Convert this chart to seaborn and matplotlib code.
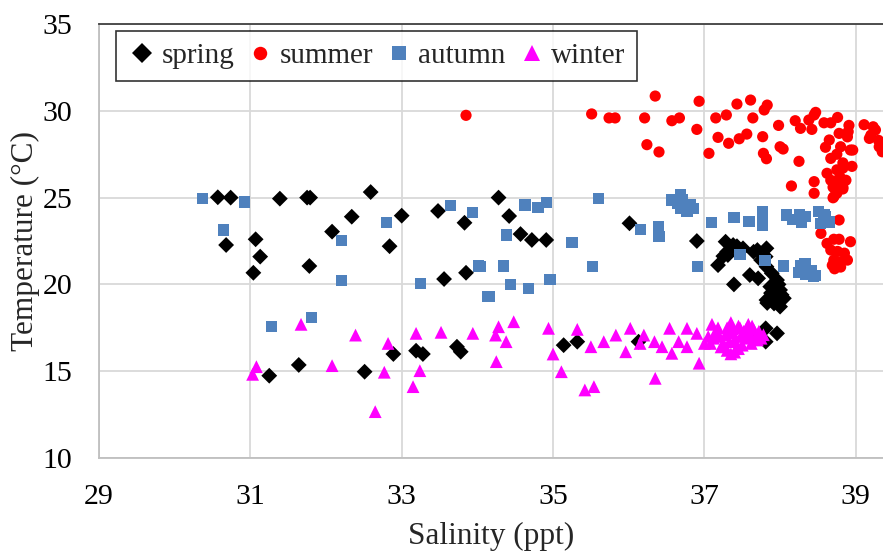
import pandas as pd
import matplotlib
matplotlib.use('Agg')
import matplotlib.pyplot as plt
import seaborn as sns

# Salinity (ppt) / temperature (C)
spring_sal = [30.57, 30.74, 30.68, 31.07, 31.13, 31.04, 31.39, 31.75, 31.79, 31.78,
              32.08, 32.34, 32.59, 32.84, 33.00, 33.48, 33.83, 33.56, 33.85, 34.28,
              34.42, 34.57, 34.72, 34.91, 36.01, 36.90, 37.18, 37.39, 37.31, 37.28,
              37.38, 37.51, 37.65, 37.82, 37.30, 37.25, 37.60, 37.71, 37.82, 37.89,
              37.96, 37.87, 38.00, 37.82, 37.96, 38.05, 37.81, 37.75, 37.92, 37.83,
              38.00, 37.92, 38.02, 37.81, 37.96, 37.81, 37.65, 37.72, 35.14, 35.32,
              36.13, 31.25, 31.64, 32.51, 32.89, 33.19, 33.28, 33.73, 33.78, 37.70,
              37.88, 37.98, 37.43]
spring_temp = [25.02, 25.00, 22.27, 22.60, 21.60, 20.67, 24.94, 25.00, 25.00, 21.06,
               23.04, 23.90, 25.32, 22.20, 23.96, 24.23, 23.55, 20.31, 20.67, 25.00,
               23.94, 22.90, 22.56, 22.56, 23.52, 22.50, 21.11, 20.00, 21.69, 22.46,
               22.27, 22.08, 21.88, 22.08, 21.88, 21.63, 20.54, 20.35, 21.02, 20.64,
               20.25, 19.87, 19.68, 19.10, 19.10, 19.20, 21.60, 21.40, 19.30, 18.93,
               18.72, 18.90, 19.40, 17.47, 17.18, 16.70, 16.80, 17.00, 16.50, 16.70,
               16.70, 14.74, 15.36, 14.97, 15.99, 16.18, 15.99, 16.41, 16.12, 21.98,
               19.50, 20.00, 22.20]

summer_sal = [33.85, 35.51, 35.74, 35.82, 36.21, 36.35, 36.57, 36.67, 36.24, 36.40,
              36.90, 36.93, 37.06, 37.15, 37.18, 37.29, 37.32, 37.43, 37.46, 37.56,
              37.61, 37.64, 37.77, 37.78, 37.82, 37.79, 37.83, 37.98, 38.00, 38.04,
              38.25, 38.15, 38.20, 38.27, 38.38, 38.42, 38.45, 38.47, 38.58, 38.67,
              38.76, 38.45, 38.45, 38.91, 39.11, 39.18, 39.26, 39.31, 39.35, 39.23,
              38.78, 38.65, 38.89, 38.80, 38.93, 38.96, 38.67, 38.75, 38.83, 38.62,
              38.75, 38.83, 38.79, 38.67, 38.70, 38.83, 38.75, 38.70, 38.87, 38.71,
              38.77, 38.83, 38.78, 38.54, 38.62, 38.71, 38.78, 38.93, 38.67, 38.76,
              38.85, 38.71, 38.80, 38.89, 38.69, 38.80, 38.72, 38.90, 38.60, 38.95,
              39.30, 39.20]
summer_temp = [29.74, 29.82, 29.59, 29.59, 29.59, 30.85, 29.43, 29.59, 28.05, 27.63,
               28.93, 30.55, 27.55, 29.59, 28.47, 29.76, 28.13, 30.39, 28.39, 28.66,
               30.62, 29.59, 28.51, 27.55, 27.24, 30.05, 30.33, 29.16, 27.93, 27.80,
               27.09, 25.67, 29.43, 28.99, 29.47, 28.93, 29.76, 29.91, 29.31, 29.31,
               29.62, 25.92, 25.25, 29.16, 29.20, 28.41, 28.90, 27.93, 27.64, 29.08,
               28.70, 28.32, 28.50, 27.93, 27.74, 27.74, 27.26, 27.50, 27.00, 26.40,
               26.60, 26.70, 26.20, 26.00, 25.60, 25.50, 25.25, 24.99, 26.00, 25.05,
               26.00, 25.60, 23.71, 22.94, 22.36, 22.60, 22.60, 22.46, 21.98, 21.90,
               21.80, 21.40, 21.30, 21.40, 21.10, 21.00, 20.90, 28.80, 27.90, 26.80,
               28.30, 28.60]

autumn_sal = [30.37, 30.92, 30.65, 32.20, 32.80, 32.20, 33.25, 33.64, 33.94, 34.01,
              34.13, 31.28, 31.81, 34.63, 34.80, 34.91, 35.60, 34.38, 35.25, 36.16,
              36.39, 36.40, 34.04, 34.35, 35.52, 36.91, 34.44, 34.68, 34.96, 34.16,
              36.57, 36.68, 36.71, 36.82, 36.68, 36.77, 36.85, 36.64, 37.09, 37.39,
              37.59, 37.77, 37.77, 37.77, 38.09, 38.17, 38.26, 38.28, 38.33, 38.51,
              38.60, 38.53, 38.65, 37.47, 37.80, 38.05, 38.27, 38.33, 38.24, 38.34,
              38.44, 38.42, 38.30, 38.58, 38.47]
autumn_temp = [24.96, 24.75, 23.13, 22.52, 23.56, 20.24, 20.06, 24.56, 24.15, 21.06,
               19.30, 17.56, 18.10, 24.57, 24.42, 24.73, 24.96, 22.85, 22.42, 23.17,
               23.32, 22.75, 21.02, 21.06, 21.02, 21.02, 20.00, 19.77, 20.30, 19.30,
               24.86, 25.15, 24.86, 24.57, 24.38, 24.19, 24.38, 24.67, 23.56, 23.85,
               23.62, 24.19, 23.75, 23.40, 24.00, 23.75, 24.00, 23.60, 23.90, 24.19,
               23.90, 23.50, 23.60, 21.70, 21.40, 21.06, 21.10, 21.20, 20.70, 20.60,
               20.45, 20.80, 20.80, 24.00, 20.50]

winter_sal = [31.67, 32.39, 32.82, 33.19, 33.52, 33.94, 31.08, 31.03, 32.08, 32.77,
              33.24, 33.15, 32.65, 34.28, 34.48, 34.24, 34.38, 34.25, 34.94, 35.32,
              35.00, 35.11, 35.42, 35.54, 35.50, 35.67, 35.83, 36.02, 35.96, 36.20,
              36.15, 36.34, 36.44, 36.35, 36.54, 36.57, 36.66, 36.77, 36.77, 36.93,
              36.90, 37.00, 37.10, 37.15, 37.20, 37.25, 37.30, 37.35, 37.38, 37.40,
              37.42, 37.45, 37.48, 37.50, 37.52, 37.55, 37.58, 37.60, 37.62, 37.65,
              37.68, 37.70, 37.72, 37.75, 37.78, 37.30, 37.35, 37.40, 37.45, 37.22,
              37.12, 37.18, 37.28, 37.33, 37.05, 37.08, 37.55, 37.63, 37.47, 37.37]
winter_temp = [17.70, 17.08, 16.60, 17.18, 17.24, 17.18, 15.26, 14.82, 15.32, 14.94,
               15.03, 14.11, 12.67, 17.56, 17.85, 17.08, 16.70, 15.55, 17.47, 17.41,
               15.99, 14.97, 13.92, 14.11, 16.41, 16.70, 17.08, 17.47, 16.12, 17.08,
               16.60, 16.70, 16.41, 14.59, 17.47, 16.03, 16.70, 17.47, 16.41, 15.46,
               17.18, 16.60, 17.70, 17.30, 17.00, 16.60, 17.50, 17.80, 17.20, 16.80,
               16.30, 17.60, 17.00, 16.50, 17.30, 16.90, 17.70, 17.10, 16.60, 17.40,
               17.00, 16.80, 17.30, 16.90, 17.10, 16.20, 16.00, 16.10, 16.30, 16.40,
               16.90, 17.50, 17.10, 16.70, 17.00, 16.60, 17.40, 17.60, 17.50, 17.45]

seasons = ['spring', 'summer', 'autumn', 'winter']
colors = {'spring': '#000000', 'summer': '#FF0000', 'autumn': '#4F81BD', 'winter': '#FF00FF'}
markers = {'spring': 'D', 'summer': 'o', 'autumn': 's', 'winter': '^'}
sizes = {'spring': 65, 'summer': 65, 'autumn': 65, 'winter': 85}

df = pd.concat([
    pd.DataFrame({'sal': spring_sal, 'temp': spring_temp, 'season': 'spring'}),
    pd.DataFrame({'sal': summer_sal, 'temp': summer_temp, 'season': 'summer'}),
    pd.DataFrame({'sal': autumn_sal, 'temp': autumn_temp, 'season': 'autumn'}),
    pd.DataFrame({'sal': winter_sal, 'temp': winter_temp, 'season': 'winter'}),
], ignore_index=True)

sns.set_style('white')
plt.rcParams['font.family'] = ['Liberation Serif', 'DejaVu Serif']

fig = plt.figure(figsize=(8.83, 5.51), dpi=100)
ax = fig.add_axes([0.1121, 0.1688, 0.8879, 0.7876])

sns.scatterplot(data=df, x='sal', y='temp', hue='season', style='season', size='season',
                hue_order=seasons, style_order=seasons, size_order=seasons,
                palette=colors, markers=markers, sizes=sizes, linewidth=0, ax=ax)

ax.set_xlim(29, 39.36)
ax.set_ylim(10, 35)
ax.set_xticks([29, 31, 33, 35, 37, 39])
ax.set_yticks([10, 15, 20, 25, 30, 35])
ax.grid(True, color='#D9D9D9', linewidth=1.3)
ax.set_axisbelow(True)
ax.tick_params(length=0, pad=19, labelsize=21.5, colors='black')

ax.spines['right'].set_visible(False)
ax.spines['top'].set_color('#404040')
ax.spines['left'].set_color('#BFBFBF')
ax.spines['bottom'].set_color('#BFBFBF')
for side in ['top', 'left', 'bottom']:
    ax.spines[side].set_linewidth(1.3)

ax.set_xlabel('Salinity (ppt)', fontsize=22.5, labelpad=8)
ax.set_ylabel('Temperature (°C)', fontsize=22.5, labelpad=2)

handles, labels = ax.get_legend_handles_labels()
leg = ax.legend(handles, labels, ncol=4, loc='upper left', bbox_to_anchor=(0.022, 0.984),
                borderaxespad=0, fontsize=21, frameon=True, fancybox=False,
                edgecolor='black', handletextpad=0.15, columnspacing=0.4,
                handlelength=1.0, borderpad=0.4, markerscale=1.2)
leg.get_frame().set_linewidth(1.2)

plt.savefig('out.png', dpi=100)
